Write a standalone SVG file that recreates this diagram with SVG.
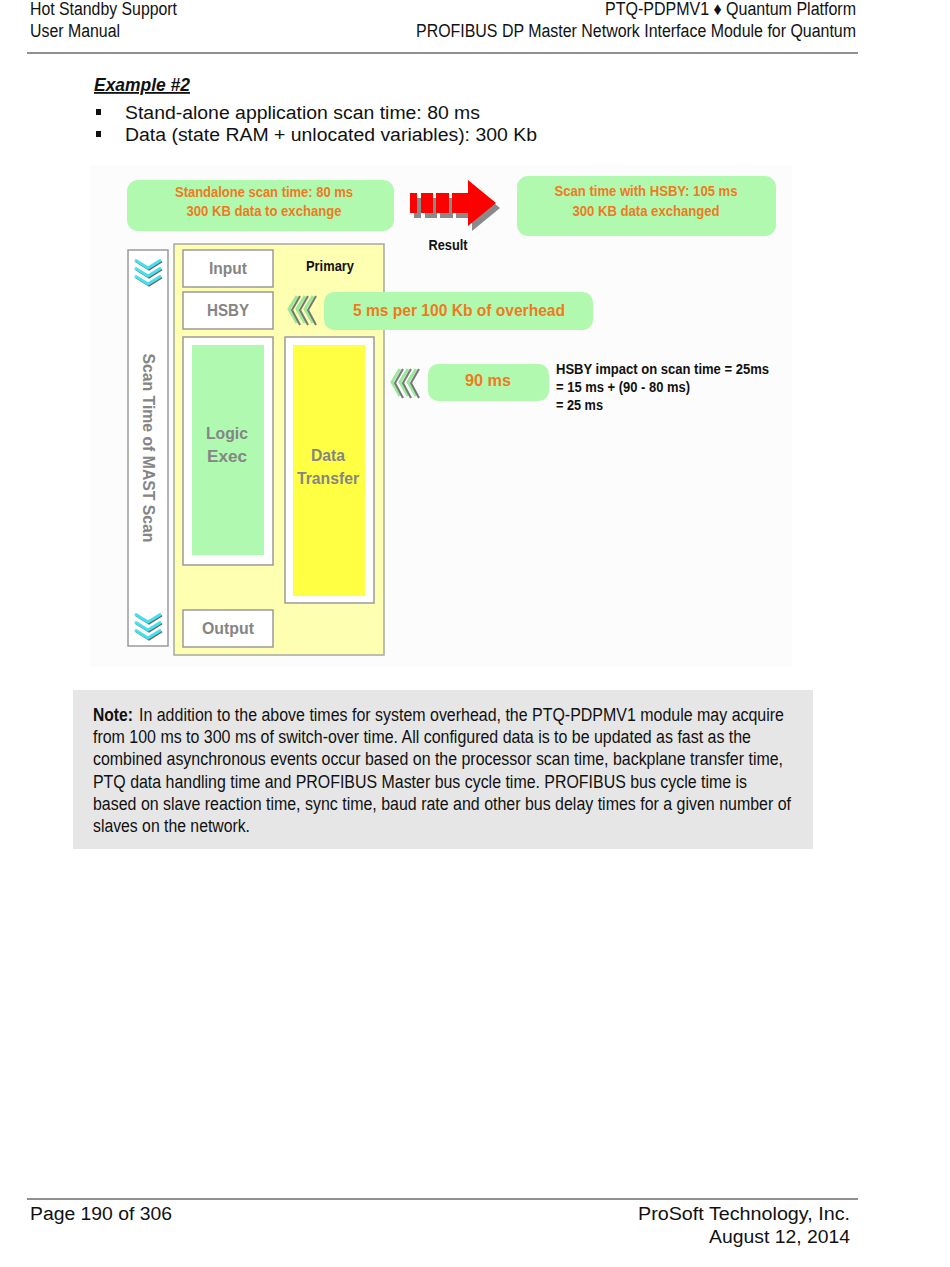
<svg xmlns="http://www.w3.org/2000/svg" width="950" height="1267" viewBox="0 0 950 1267">
<defs>
<style>
.hdr{font-family:"Liberation Sans",Arial,sans-serif;font-size:18px;fill:#111}
.body{font-family:"Liberation Sans",Arial,sans-serif;font-size:18px;fill:#111}
.note{font-family:"Liberation Sans",Arial,sans-serif;font-size:18px;fill:#111}
.dg{font-family:"Liberation Sans",Arial,sans-serif;font-weight:bold}
.or{fill:#ef7a1e;font-size:14px}
.orb{fill:#ef7a1e;font-size:17px}
.gr{fill:#858585;font-size:17px}
.bk{fill:#111;font-size:14px}
.gbox{fill:#b2f9b0}
.wbox{fill:#fff;stroke:#9a9a9a;stroke-width:1.5}
.cy{fill:none;stroke:#45e0ee;stroke-width:3}
.cys{fill:none;stroke:#666;stroke-width:2}
.lc{fill:none;stroke:#9be89a;stroke-width:3}
.lcs{fill:none;stroke:#777;stroke-width:2}
</style>
</defs>
<rect width="950" height="1267" fill="#fff"/>
<g id="header">
<text class="hdr" x="30" y="15" textLength="147" lengthAdjust="spacingAndGlyphs">Hot Standby Support</text>
<text class="hdr" x="30" y="37" textLength="90" lengthAdjust="spacingAndGlyphs">User Manual</text>
<text class="hdr" x="856" y="15" text-anchor="end" textLength="251" lengthAdjust="spacingAndGlyphs">PTQ-PDPMV1 ♦ Quantum Platform</text>
<text class="hdr" x="856" y="37" text-anchor="end" textLength="440" lengthAdjust="spacingAndGlyphs">PROFIBUS DP Master Network Interface Module for Quantum</text>
<line x1="27" y1="53" x2="858" y2="53" stroke="#222" stroke-width="1.2"/>
</g>
<g id="intro">
<text class="body" x="94" y="91" font-weight="bold" font-style="italic" text-decoration="underline" textLength="96" lengthAdjust="spacingAndGlyphs">Example #2</text>
<rect x="96" y="109" width="5" height="6" fill="#111"/>
<rect x="96" y="131" width="5" height="6" fill="#111"/>
<text class="body" x="125" y="119" textLength="355" lengthAdjust="spacingAndGlyphs">Stand-alone application scan time: 80 ms</text>
<text class="body" x="125" y="141" textLength="412" lengthAdjust="spacingAndGlyphs">Data (state RAM + unlocated variables): 300 Kb</text>
</g>
<rect x="90" y="165" width="702" height="502" fill="#fcfcfc"/>
<g id="standalone">
<rect class="gbox" x="127" y="180" width="267" height="51" rx="11"/>
<text class="dg or" x="264" y="197" text-anchor="middle" textLength="178" lengthAdjust="spacingAndGlyphs">Standalone scan time: 80 ms</text>
<text class="dg or" x="264" y="216" text-anchor="middle" textLength="155" lengthAdjust="spacingAndGlyphs">300 KB data to exchange</text>
</g>
<g id="result-arrow">
<g fill="#8a8a8a" transform="translate(4,5)">
<rect x="410" y="193" width="7" height="20"/>
<rect x="421" y="193" width="12" height="20"/>
<rect x="436" y="193" width="13" height="20"/>
<polygon points="452,193 468,193 468,180 496,203 468,226 468,213 452,213"/>
</g>
<g fill="#f00">
<rect x="410" y="193" width="7" height="20"/>
<rect x="421" y="193" width="12" height="20"/>
<rect x="436" y="193" width="13" height="20"/>
<polygon points="452,193 468,193 468,180 496,203 468,226 468,213 452,213"/>
</g>
<text class="dg bk" x="448" y="250" text-anchor="middle" textLength="39" lengthAdjust="spacingAndGlyphs">Result</text>
</g>
<g id="hsby-result">
<rect class="gbox" x="517" y="176" width="259" height="60" rx="11"/>
<text class="dg or" x="646" y="196" text-anchor="middle" textLength="183" lengthAdjust="spacingAndGlyphs">Scan time with HSBY: 105 ms</text>
<text class="dg or" x="646" y="216" text-anchor="middle" textLength="147" lengthAdjust="spacingAndGlyphs">300 KB data exchanged</text>
</g>
<g id="scan-column">
<rect x="128" y="250" width="40" height="396" fill="#fff" stroke="#9a9a9a" stroke-width="1.5"/>
<g transform="translate(1,1.5)">
<polyline class="cys" points="135,260 148,268 161,260"/>
<polyline class="cys" points="135,268 148,276 161,268"/>
<polyline class="cys" points="135,276 148,284 161,276"/>
</g>
<polyline class="cy" points="135,260 148,268 161,260"/>
<polyline class="cy" points="135,268 148,276 161,268"/>
<polyline class="cy" points="135,276 148,284 161,276"/>
<g transform="translate(1,1.5)">
<polyline class="cys" points="135,614 148,622 161,614"/>
<polyline class="cys" points="135,622 148,630 161,622"/>
<polyline class="cys" points="135,630 148,638 161,630"/>
</g>
<polyline class="cy" points="135,614 148,622 161,614"/>
<polyline class="cy" points="135,622 148,630 161,622"/>
<polyline class="cy" points="135,630 148,638 161,630"/>
<text class="dg gr" transform="translate(143,448) rotate(90)" x="0" y="0" text-anchor="middle" font-size="15" textLength="189" lengthAdjust="spacingAndGlyphs">Scan Time of MAST Scan</text>
</g>
<g id="primary">
<rect x="174" y="244" width="210" height="411" fill="#ffffb2" stroke="#a8a8a0" stroke-width="1.5"/>
<text class="dg bk" x="330" y="271" text-anchor="middle" textLength="48" lengthAdjust="spacingAndGlyphs">Primary</text>
</g>
<g id="input">
<rect class="wbox" x="183" y="250" width="90" height="37"/>
<text class="dg gr" x="228" y="274" text-anchor="middle" textLength="38" lengthAdjust="spacingAndGlyphs">Input</text>
</g>
<g id="hsby">
<rect class="wbox" x="183" y="292" width="90" height="37"/>
<text class="dg gr" x="228" y="316" text-anchor="middle" textLength="42" lengthAdjust="spacingAndGlyphs">HSBY</text>
</g>
<g id="logic">
<rect class="wbox" x="183" y="337" width="90" height="228"/>
<rect x="192" y="345" width="72" height="210" fill="#b0f9b0"/>
<text class="dg gr" x="227" y="439" text-anchor="middle" textLength="42" lengthAdjust="spacingAndGlyphs">Logic</text>
<text class="dg gr" x="227" y="462" text-anchor="middle" textLength="40" lengthAdjust="spacingAndGlyphs">Exec</text>
</g>
<g id="data-transfer">
<rect class="wbox" x="285" y="337" width="89" height="266"/>
<rect x="293" y="345" width="72" height="251" fill="#ffff44"/>
<text class="dg gr" x="328" y="461" text-anchor="middle" textLength="34" lengthAdjust="spacingAndGlyphs">Data</text>
<text class="dg gr" x="328" y="484" text-anchor="middle" textLength="62" lengthAdjust="spacingAndGlyphs">Transfer</text>
</g>
<g id="output">
<rect class="wbox" x="183" y="610" width="90" height="37"/>
<text class="dg gr" x="228" y="634" text-anchor="middle" textLength="52" lengthAdjust="spacingAndGlyphs">Output</text>
</g>
<g id="connectors">
<g>
<polyline class="lc" points="297,296 289,309 297,323"/>
<polyline class="lc" points="305,296 297,309 305,323"/>
<polyline class="lc" points="313,296 305,309 313,323"/>
<polyline class="lcs" points="300,296 292,310 300,325"/>
<polyline class="lcs" points="308,296 300,310 308,325"/>
<polyline class="lcs" points="316,296 308,310 316,325"/>
</g>
<g>
<polyline class="lc" points="400,369 392,382 400,396"/>
<polyline class="lc" points="408,369 400,382 408,396"/>
<polyline class="lc" points="416,369 408,382 416,396"/>
<polyline class="lcs" points="403,369 395,383 403,398"/>
<polyline class="lcs" points="411,369 403,383 411,398"/>
<polyline class="lcs" points="419,369 411,383 419,398"/>
</g>
</g>
<g id="overhead">
<rect class="gbox" x="324" y="292" width="269" height="38" rx="10"/>
<text class="dg orb" x="459" y="316" text-anchor="middle" textLength="212" lengthAdjust="spacingAndGlyphs">5 ms per 100 Kb of overhead</text>
</g>
<g id="ninety">
<rect class="gbox" x="428" y="364" width="121" height="37" rx="10"/>
<text class="dg orb" x="488" y="386" text-anchor="middle" textLength="46" lengthAdjust="spacingAndGlyphs">90 ms</text>
</g>
<g id="impact">
<text class="dg bk" x="556" y="374" textLength="213" lengthAdjust="spacingAndGlyphs">HSBY impact on scan time = 25ms</text>
<text class="dg bk" x="556" y="392" textLength="134" lengthAdjust="spacingAndGlyphs">= 15 ms + (90 - 80 ms)</text>
<text class="dg bk" x="556" y="410" textLength="47" lengthAdjust="spacingAndGlyphs">= 25 ms</text>
</g>
<g id="note">
<rect x="73" y="690" width="740" height="159" fill="#e6e6e6"/>
<text class="note" x="93" y="721" font-weight="bold" textLength="40" lengthAdjust="spacingAndGlyphs">Note:</text>
<text class="note" x="139" y="721" textLength="645" lengthAdjust="spacingAndGlyphs">In addition to the above times for system overhead, the PTQ-PDPMV1 module may acquire</text>
<text class="note" x="93" y="743" textLength="658" lengthAdjust="spacingAndGlyphs">from 100 ms to 300 ms of switch-over time. All configured data is to be updated as fast as the</text>
<text class="note" x="93" y="765" textLength="690" lengthAdjust="spacingAndGlyphs">combined asynchronous events occur based on the processor scan time, backplane transfer time,</text>
<text class="note" x="93" y="788" textLength="654" lengthAdjust="spacingAndGlyphs">PTQ data handling time and PROFIBUS Master bus cycle time. PROFIBUS bus cycle time is</text>
<text class="note" x="93" y="810" textLength="698" lengthAdjust="spacingAndGlyphs">based on slave reaction time, sync time, baud rate and other bus delay times for a given number of</text>
<text class="note" x="93" y="832" textLength="157" lengthAdjust="spacingAndGlyphs">slaves on the network.</text>
</g>
<g id="footer">
<line x1="27" y1="1199" x2="858" y2="1199" stroke="#222" stroke-width="1.2"/>
<text class="body" x="30" y="1220" textLength="142" lengthAdjust="spacingAndGlyphs">Page 190 of 306</text>
<text class="body" x="850" y="1220" text-anchor="end" textLength="212" lengthAdjust="spacingAndGlyphs">ProSoft Technology, Inc.</text>
<text class="body" x="850" y="1243" text-anchor="end" textLength="141" lengthAdjust="spacingAndGlyphs">August 12, 2014</text>
</g>
</svg>
